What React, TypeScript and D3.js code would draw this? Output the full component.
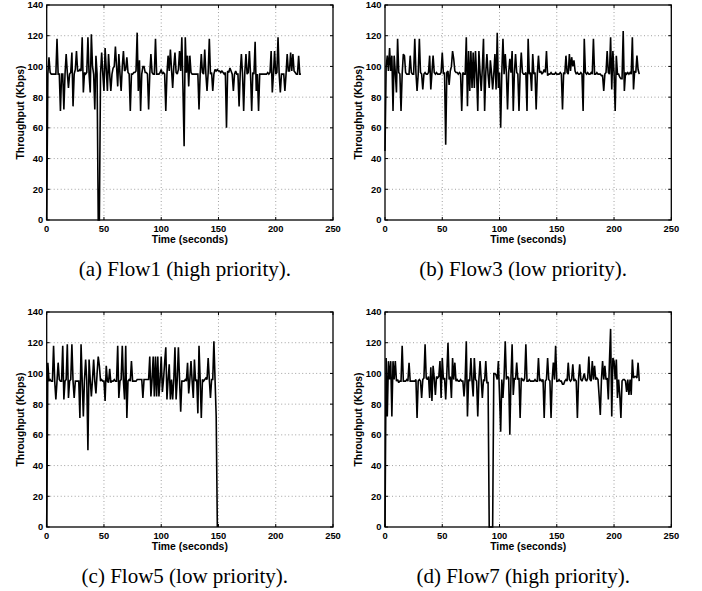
import React, { useEffect, useRef } from "react";
import * as d3 from "d3";

// throughput samples (Kbps), one per second starting at t = 0
const flow1 = [
  0, 95, 106, 96, 95, 95, 95, 95, 95, 118, 95, 95, 71, 95, 95, 72, 95, 108, 96, 86,
  95, 96, 109, 74, 95, 98, 110, 97, 97, 98, 97, 119, 83, 96, 95, 96, 119, 95, 83, 121,
  100, 95, 72, 107, 95, 0, 0, 95, 109, 95, 84, 112, 98, 84, 108, 95, 84, 95, 99, 100,
  113, 100, 87, 108, 95, 84, 100, 110, 97, 98, 106, 96, 95, 71, 95, 95, 96, 96, 97, 122,
  84, 104, 71, 95, 100, 100, 96, 96, 95, 72, 95, 108, 96, 95, 95, 118, 95, 95, 95, 96,
  98, 95, 96, 95, 71, 95, 107, 97, 111, 98, 86, 100, 109, 96, 95, 98, 110, 97, 119, 85,
  48, 119, 96, 107, 87, 107, 96, 95, 95, 95, 95, 95, 95, 72, 95, 108, 96, 95, 111, 95,
  84, 96, 118, 95, 96, 84, 95, 98, 97, 98, 97, 97, 96, 97, 96, 95, 96, 60, 97, 96,
  99, 97, 95, 84, 95, 97, 95, 95, 74, 96, 108, 95, 71, 96, 108, 95, 96, 110, 95, 71,
  96, 95, 116, 84, 95, 71, 95, 95, 95, 95, 95, 95, 95, 96, 95, 96, 110, 83, 95, 110,
  95, 96, 119, 95, 83, 95, 95, 95, 84, 95, 108, 97, 97, 109, 97, 108, 97, 96, 95, 95,
  107, 95, 95,
];

const flow3 = [
  45, 100, 107, 97, 112, 97, 107, 71, 107, 96, 83, 118, 96, 95, 71, 95, 108, 107, 96, 95,
  95, 95, 107, 96, 95, 95, 118, 96, 84, 95, 118, 96, 95, 85, 95, 96, 95, 95, 96, 107,
  85, 96, 107, 96, 95, 96, 95, 95, 95, 96, 109, 95, 96, 49, 96, 97, 88, 97, 100, 110,
  105, 97, 96, 96, 95, 96, 95, 71, 96, 95, 95, 119, 74, 110, 84, 110, 86, 109, 86, 110,
  95, 71, 110, 96, 84, 99, 118, 71, 96, 108, 95, 86, 104, 96, 85, 95, 108, 85, 122, 86,
  96, 60, 96, 118, 95, 108, 96, 72, 96, 105, 96, 110, 71, 96, 108, 96, 95, 71, 96, 109,
  96, 95, 95, 96, 71, 118, 95, 96, 84, 108, 95, 96, 72, 95, 107, 96, 97, 95, 96, 98,
  96, 110, 94, 95, 95, 96, 95, 95, 95, 96, 95, 95, 95, 96, 95, 72, 96, 95, 107, 96,
  95, 108, 97, 106, 100, 104, 97, 95, 96, 95, 95, 96, 95, 71, 118, 96, 95, 96, 95, 95,
  96, 95, 118, 95, 95, 96, 95, 95, 95, 94, 94, 84, 95, 96, 110, 96, 95, 119, 85, 110,
  96, 71, 107, 95, 95, 93, 92, 92, 123, 84, 96, 95, 96, 95, 96, 95, 119, 85, 97, 96,
  107, 98, 95,
];

const flow5 = [
  0, 107, 95, 96, 95, 95, 118, 95, 83, 95, 107, 96, 95, 95, 118, 83, 95, 96, 119, 84,
  95, 96, 119, 95, 84, 95, 95, 95, 95, 71, 119, 95, 72, 96, 109, 95, 50, 109, 96, 85,
  96, 109, 95, 87, 100, 111, 105, 95, 96, 95, 95, 82, 105, 95, 94, 103, 94, 95, 95, 96,
  95, 95, 118, 84, 95, 96, 118, 95, 83, 118, 71, 95, 96, 95, 108, 95, 95, 95, 95, 96,
  96, 96, 96, 96, 84, 96, 96, 96, 96, 96, 111, 85, 96, 111, 85, 111, 85, 111, 85, 96,
  111, 88, 96, 107, 117, 83, 96, 106, 83, 96, 83, 96, 117, 83, 96, 117, 96, 75, 95, 95,
  95, 96, 95, 107, 87, 96, 108, 95, 84, 109, 95, 96, 74, 118, 96, 71, 96, 95, 96, 97,
  96, 110, 96, 84, 96, 96, 121, 96, 72, 0,
];

const flow7 = [
  0, 110, 72, 108, 96, 108, 72, 108, 96, 108, 95, 96, 94, 95, 95, 118, 95, 95, 95, 96,
  95, 107, 95, 95, 95, 95, 95, 96, 71, 95, 96, 95, 84, 96, 97, 119, 97, 96, 98, 84,
  104, 82, 105, 97, 86, 98, 97, 98, 108, 84, 110, 96, 97, 83, 100, 120, 96, 98, 84, 110,
  96, 107, 95, 96, 95, 95, 96, 95, 95, 85, 96, 121, 72, 96, 95, 110, 95, 85, 110, 96,
  95, 72, 96, 108, 96, 84, 96, 95, 108, 94, 94, 0, 0, 0, 0, 100, 100, 99, 96, 108,
  86, 62, 96, 84, 98, 121, 96, 98, 97, 60, 97, 119, 86, 97, 96, 107, 96, 97, 71, 97,
  96, 95, 97, 119, 95, 95, 96, 95, 95, 95, 95, 96, 95, 95, 110, 95, 96, 95, 96, 71,
  95, 96, 110, 96, 95, 71, 96, 107, 96, 118, 95, 95, 96, 95, 95, 93, 93, 95, 96, 95,
  107, 96, 95, 96, 106, 95, 96, 95, 71, 96, 106, 96, 95, 97, 100, 96, 95, 97, 111, 96,
  95, 108, 96, 105, 96, 97, 96, 85, 73, 96, 108, 96, 105, 96, 97, 83, 108, 129, 72, 110,
  108, 96, 109, 84, 96, 86, 71, 95, 96, 96, 95, 88, 96, 86, 96, 86, 109, 97, 98, 98,
  97, 107, 95,
];

const xTicks = [0, 50, 100, 150, 200, 250];
const yTicks = [0, 20, 40, 60, 80, 100, 120, 140];
const captions = [
  "(a) Flow1 (high priority).",
  "(b) Flow3 (low priority).",
  "(c) Flow5 (low priority).",
  "(d) Flow7 (high priority).",
];
const series = [flow1, flow3, flow5, flow7];

const sans = "'Liberation Sans', Arial, Helvetica, sans-serif";
const serif = "'Liberation Serif', 'Times New Roman', serif";

export default function App() {
  const ref = useRef<SVGSVGElement>(null);

  useEffect(() => {
    const svg = d3.select(ref.current);
    svg.selectAll("*").remove();

    const w = 286.3, h = 215;
    const lefts = [46.7, 385];
    const tops = [5, 312];

    series.forEach((values, i) => {
      const left = lefts[i % 2];
      const top = tops[Math.floor(i / 2)];
      const g = svg.append("g").attr("transform", `translate(${left},${top})`);

      const x = d3.scaleLinear().domain([0, 250]).range([0, w]);
      const y = d3.scaleLinear().domain([0, 140]).range([h, 0]);

      // dotted grid
      g.selectAll(".gx").data(xTicks.slice(1, -1)).join("line")
        .attr("x1", d => x(d)).attr("x2", d => x(d))
        .attr("y1", 0).attr("y2", h)
        .attr("stroke", "#8a8a8a").attr("stroke-width", 0.8)
        .attr("stroke-dasharray", "1 2.5");
      g.selectAll(".gy").data(yTicks.slice(1, -1)).join("line")
        .attr("x1", 0).attr("x2", w)
        .attr("y1", d => y(d)).attr("y2", d => y(d))
        .attr("stroke", "#8a8a8a").attr("stroke-width", 0.8)
        .attr("stroke-dasharray", "1 2.5");

      // inward ticks on all four sides
      const tk = 3;
      xTicks.forEach(t => {
        g.append("line").attr("x1", x(t)).attr("x2", x(t)).attr("y1", h).attr("y2", h - tk)
          .attr("stroke", "#000").attr("stroke-width", 1);
        g.append("line").attr("x1", x(t)).attr("x2", x(t)).attr("y1", 0).attr("y2", tk)
          .attr("stroke", "#000").attr("stroke-width", 1);
      });
      yTicks.forEach(t => {
        g.append("line").attr("x1", 0).attr("x2", tk).attr("y1", y(t)).attr("y2", y(t))
          .attr("stroke", "#000").attr("stroke-width", 1);
        g.append("line").attr("x1", w).attr("x2", w - tk).attr("y1", y(t)).attr("y2", y(t))
          .attr("stroke", "#000").attr("stroke-width", 1);
      });

      // data line
      const line = d3.line<number>()
        .x((d, k) => x(k))
        .y(d => y(d));
      g.append("path").datum(values)
        .attr("d", line)
        .attr("fill", "none")
        .attr("stroke", "#000")
        .attr("stroke-width", 1.6)
        .attr("stroke-linejoin", "miter")
        .attr("stroke-miterlimit", 2);

      // box
      g.append("rect").attr("x", 0).attr("y", 0).attr("width", w).attr("height", h)
        .attr("fill", "none").attr("stroke", "#000").attr("stroke-width", 1.3);

      // tick labels
      g.selectAll(".xl").data(xTicks).join("text")
        .attr("x", d => x(d)).attr("y", h + 11.5)
        .attr("text-anchor", "middle")
        .style("font", `bold 9.4px ${sans}`)
        .text(d => d);
      g.selectAll(".yl").data(yTicks).join("text")
        .attr("x", -3.5).attr("y", d => y(d) + 3.4)
        .attr("text-anchor", "end")
        .style("font", `bold 9.4px ${sans}`)
        .text(d => d);

      g.append("text")
        .attr("x", w / 2).attr("y", h + 23)
        .attr("text-anchor", "middle")
        .style("font", `bold 10.4px ${sans}`)
        .text("Time (seconds)");

      g.append("text")
        .attr("transform", `translate(-23.2,${h / 2}) rotate(-90)`)
        .attr("text-anchor", "middle")
        .style("font", `bold 10.4px ${sans}`)
        .text("Throughput (Kbps)");

      g.append("text")
        .attr("x", w / 2 - 5).attr("y", h + 56)
        .attr("text-anchor", "middle")
        .style("font", `21px ${serif}`)
        .text(captions[i]);
    });
  }, []);

  return (
    <svg
      ref={ref}
      width={702}
      height={591}
      style={{ position: "absolute", left: 0, top: 0, background: "#fff" }}
    />
  );
}
